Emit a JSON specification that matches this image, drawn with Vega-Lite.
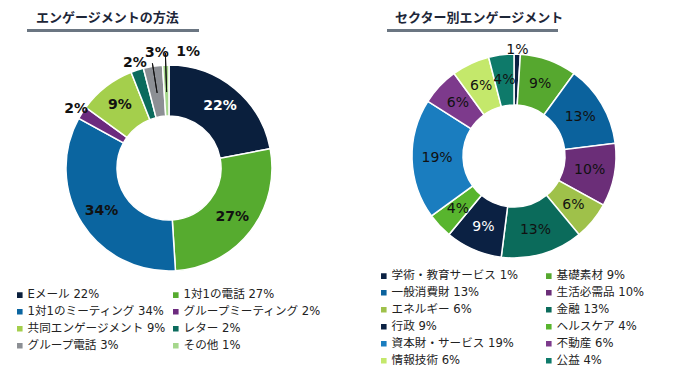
{
  "$schema": "https://vega.github.io/schema/vega-lite/v6.json",
  "padding": {"top": 11, "left": 0, "right": 0, "bottom": 0},
  "background": "white",
  "config": {
    "view": {"stroke": null},
    "font": "DejaVu Sans, Noto Sans CJK JP",
    "arc": {"stroke": "#ffffff", "strokeWidth": 1.5}
  },
  "spacing": 0,
  "resolve": {"scale": {"color": "independent", "theta": "independent"}, "legend": {"color": "independent"}},
  "vconcat": [
    {
      "spacing": 0,
      "hconcat": [
        {"width": 27, "height": 3, "data": {"values": [{}]}, "mark": {"type": "text", "text": ""}},
        {
          "width": 172, "height": 3,
          "view": {"fill": "#6b7682", "stroke": null},
          "title": {"text": "エンゲージメントの方法", "anchor": "start", "dx": 9, "offset": 0, "fontSize": 13, "fontWeight": "bold", "color": "#1d2638", "font": "Noto Sans CJK JP"},
          "data": {"values": [{}]}, "mark": {"type": "text", "text": ""}
        },
        {"width": 188, "height": 3, "data": {"values": [{}]}, "mark": {"type": "text", "text": ""}},
        {
          "width": 171, "height": 3,
          "view": {"fill": "#6b7682", "stroke": null},
          "title": {"text": "セクター別エンゲージメント", "anchor": "start", "dx": 8, "offset": 0, "fontSize": 13, "fontWeight": "bold", "color": "#1d2638", "font": "Noto Sans CJK JP"},
          "data": {"values": [{}]}, "mark": {"type": "text", "text": ""}
        }
      ]
    },
    {
      "spacing": 26,
      "resolve": {"scale": {"color": "independent", "theta": "independent"}, "legend": {"color": "independent"}},
      "hconcat": [
        {
          "width": 338, "height": 264,
          "data": {"values": [
            {"i": 1, "cat": "Eメール 22%", "v": 22, "p": "22%"},
            {"i": 2, "cat": "1対1の電話 27%", "v": 27, "p": "27%"},
            {"i": 3, "cat": "1対1のミーティング 34%", "v": 34, "p": "34%"},
            {"i": 4, "cat": "グループミーティング 2%", "v": 2, "p": "2%"},
            {"i": 5, "cat": "共同エンゲージメント 9%", "v": 9, "p": "9%"},
            {"i": 6, "cat": "レター 2%", "v": 2, "p": "2%"},
            {"i": 7, "cat": "グループ電話 3%", "v": 3, "p": "3%"},
            {"i": 8, "cat": "その他 1%", "v": 1, "p": "1%"}
          ]},
          "encoding": {
            "theta": {"field": "v", "type": "quantitative", "stack": true},
            "order": {"field": "i", "type": "quantitative"}
          },
          "layer": [
            {
              "mark": {"type": "arc", "outerRadius": 103, "innerRadius": 52},
              "encoding": {
                "color": {
                  "field": "cat", "type": "nominal", "sort": null,
                  "scale": {
                    "domain": ["Eメール 22%", "1対1の電話 27%", "1対1のミーティング 34%", "グループミーティング 2%", "共同エンゲージメント 9%", "レター 2%", "グループ電話 3%", "その他 1%"],
                    "range": ["#0a1f3d", "#56ab2f", "#0b65a0", "#6c2a7e", "#a4cf4c", "#0b6b5d", "#8c8f94", "#a5d78c"]
                  },
                  "legend": {
                    "orient": "none", "legendX": 14, "legendY": 253, "columns": 2, "direction": "horizontal", "title": null,
                    "symbolType": "square", "symbolSize": 50, "symbolStrokeWidth": 0, "labelOffset": 2,
                    "labelFontSize": 11.6, "labelColor": "#222222", "columnPadding": 3, "rowPadding": 3, "padding": 0
                  }
                }
              }
            },
            {
              "mark": {"type": "arc", "innerRadius": 76, "outerRadius": 106, "padAngle": 0.4, "filled": false, "stroke": "#111111", "strokeWidth": 1},
              "encoding": {
                "strokeOpacity": {"condition": {"test": "datum.i == 7", "value": 1}, "value": 0}
              }
            },
            {
              "mark": {"type": "arc", "innerRadius": 76, "outerRadius": 115, "padAngle": 0.4, "filled": false, "stroke": "#111111", "strokeWidth": 1},
              "encoding": {
                "strokeOpacity": {"condition": {"test": "datum.i == 8", "value": 1}, "value": 0}
              }
            },
            {
              "mark": {"type": "text", "radius": 80, "fontSize": 14, "fontWeight": "bold"},
              "encoding": {
                "text": {"condition": {"test": "datum.v > 3", "field": "p"}, "value": ""},
                "color": {"condition": {"test": "datum.i == 1", "value": "#ffffff"}, "value": "#111111"}
              }
            },
            {
              "mark": {"type": "text", "radius": 110, "fontSize": 14, "fontWeight": "bold", "color": "#111111"},
              "encoding": {
                "text": {"condition": {"test": "datum.v == 2", "field": "p"}, "value": ""}
              }
            },
            {
              "mark": {"type": "text", "radius": 116, "dx": 6, "fontSize": 14, "fontWeight": "bold", "color": "#111111"},
              "encoding": {
                "text": {"condition": {"test": "datum.i == 7", "field": "p"}, "value": ""}
              }
            },
            {
              "mark": {"type": "text", "radius": 116, "dx": 11, "align": "left", "fontSize": 14, "fontWeight": "bold", "color": "#111111"},
              "encoding": {
                "text": {"condition": {"test": "datum.i == 8", "field": "p"}, "value": ""}
              }
            }
          ]
        },
        {
          "width": 300, "height": 240,
          "data": {"values": [
            {"i": 1, "cat": "学術・教育サービス 1%", "v": 1, "p": "1%"},
            {"i": 2, "cat": "基礎素材  9%", "v": 9, "p": "9%"},
            {"i": 3, "cat": "一般消費財 13%", "v": 13, "p": "13%"},
            {"i": 4, "cat": "生活必需品 10%", "v": 10, "p": "10%"},
            {"i": 5, "cat": "エネルギー 6%", "v": 6, "p": "6%"},
            {"i": 6, "cat": "金融 13%", "v": 13, "p": "13%"},
            {"i": 7, "cat": "行政 9%", "v": 9, "p": "9%"},
            {"i": 8, "cat": "ヘルスケア 4%", "v": 4, "p": "4%"},
            {"i": 9, "cat": "資本財・サービス 19%", "v": 19, "p": "19%"},
            {"i": 10, "cat": "不動産 6%", "v": 6, "p": "6%"},
            {"i": 11, "cat": "情報技術 6%", "v": 6, "p": "6%"},
            {"i": 12, "cat": "公益 4%", "v": 4, "p": "4%"}
          ]},
          "encoding": {
            "theta": {"field": "v", "type": "quantitative", "stack": true},
            "order": {"field": "i", "type": "quantitative"}
          },
          "layer": [
            {
              "mark": {"type": "arc", "outerRadius": 102, "innerRadius": 51},
              "encoding": {
                "color": {
                  "field": "cat", "type": "nominal", "sort": null,
                  "scale": {
                    "domain": ["学術・教育サービス 1%", "基礎素材  9%", "一般消費財 13%", "生活必需品 10%", "エネルギー 6%", "金融 13%", "行政 9%", "ヘルスケア 4%", "資本財・サービス 19%", "不動産 6%", "情報技術 6%", "公益 4%"],
                    "range": ["#0b2143", "#56a82f", "#0b629d", "#6b2e78", "#9fc14a", "#0b6b5b", "#0b2143", "#58b52e", "#1a7dbf", "#7d3a8c", "#c4e86b", "#0e7a6a"]
                  },
                  "legend": {
                    "orient": "none", "legendX": 14, "legendY": 234, "columns": 2, "direction": "horizontal", "title": null,
                    "symbolType": "square", "symbolSize": 50, "symbolStrokeWidth": 0, "labelOffset": 2,
                    "labelFontSize": 11.6, "labelColor": "#222222", "columnPadding": 23, "rowPadding": 3, "padding": 0
                  }
                }
              }
            },
            {
              "mark": {"type": "text", "radius": 77, "fontSize": 14},
              "encoding": {
                "text": {"condition": {"test": "datum.v > 1", "field": "p"}, "value": ""},
                "color": {"condition": {"test": "datum.i == 7", "value": "#ffffff"}, "value": "#111111"}
              }
            },
            {
              "mark": {"type": "text", "radius": 106, "fontSize": 14, "color": "#111111"},
              "encoding": {
                "text": {"condition": {"test": "datum.v <= 1", "field": "p"}, "value": ""}
              }
            }
          ]
        }
      ]
    }
  ]
}
